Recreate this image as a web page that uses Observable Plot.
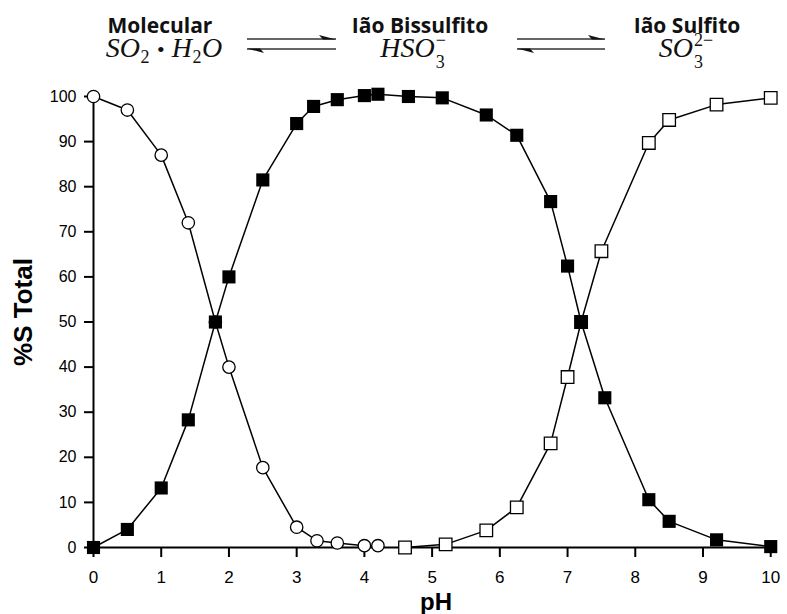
<!DOCTYPE html>
<html>
<head>
<meta charset="utf-8">
<script src="https://cdn.jsdelivr.net/npm/d3@7"></script>
<script src="https://cdn.jsdelivr.net/npm/@observablehq/plot@0.6"></script>
<style>
  html, body { margin: 0; padding: 0; background: white; }
  #wrap { position: relative; width: 787px; height: 614px; overflow: hidden; background: white; }
  #overlay { position: absolute; left: 0; top: 0; pointer-events: none; }
  #overlay text { white-space: pre; }
</style>
</head>
<body>
<div id="wrap"></div>
<script>
// ---- data ----
const xTicks = [0, 1, 2, 3, 4, 5, 6, 7, 8, 9, 10];
const yTicks = [0, 10, 20, 30, 40, 50, 60, 70, 80, 90, 100];

// Molecular SO2·H2O (open circles)
const phMolecular = [0, 0.5, 1.0, 1.4, 1.8, 2.0, 2.5, 3.0, 3.3, 3.6, 4.0, 4.2];
const molecular   = [100, 97, 87, 72, 50, 40, 17.7, 4.5, 1.5, 1.0, 0.4, 0.4];

// Bisulfite HSO3- (filled squares)
const phBisulfite = [0, 0.5, 1.0, 1.4, 1.8, 2.0, 2.5, 3.0, 3.25, 3.6, 4.0, 4.2, 4.65, 5.15, 5.8, 6.25, 6.75, 7.0, 7.2, 7.55, 8.2, 8.5, 9.2, 10.0];
const bisulfite   = [0, 4, 13.2, 28.3, 50, 60, 81.5, 94, 97.8, 99.3, 100.2, 100.5, 100, 99.7, 95.9, 91.4, 76.7, 62.4, 50, 33.2, 10.6, 5.8, 1.7, 0.2];

// Sulfite SO3 2- (open squares)
const phSulfite = [4.6, 5.2, 5.8, 6.25, 6.75, 7.0, 7.2, 7.5, 8.2, 8.5, 9.2, 10.0];
const sulfite   = [0, 0.7, 3.8, 8.9, 23.1, 37.8, 50, 65.7, 89.7, 94.8, 98.2, 99.7];

const headerLabels = ["Molecular", "Ião Bissulfito", "Ião Sulfito"];
const xLabel = "pH";
const yLabel = "%S Total";

// ---- tables ----
const molData = phMolecular.map((ph, i) => ({ph, v: molecular[i]}));
const bisData = phBisulfite.map((ph, i) => ({ph, v: bisulfite[i]}));
const sulData = phSulfite.map((ph, i) => ({ph, v: sulfite[i]}));

const chart = Plot.plot({
  width: 787,
  height: 614,
  marginLeft: 93,
  marginRight: 10,
  marginTop: 96,
  marginBottom: 67,
  style: {fontFamily: "'Liberation Sans', Arial, Helvetica, sans-serif", background: "white", color: "black", overflow: "visible"},
  x: {domain: [0, 10.1]},
  y: {domain: [0, 100]},
  marks: [
    Plot.axisX({ticks: xTicks, tickSize: 10, tickPadding: 13, fontSize: 17, strokeWidth: 2, label: null}),
    Plot.axisY({ticks: yTicks, tickSize: 9, tickPadding: 8, fontSize: 16, strokeWidth: 2, label: null}),
    Plot.ruleY([0], {stroke: "black", strokeWidth: 2}),
    Plot.ruleX([0], {stroke: "black", strokeWidth: 2}),
    Plot.line(molData, {x: "ph", y: "v", stroke: "black", strokeWidth: 1.5}),
    Plot.line(sulData, {x: "ph", y: "v", stroke: "black", strokeWidth: 1.5}),
    Plot.line(bisData, {x: "ph", y: "v", stroke: "black", strokeWidth: 1.5}),
    Plot.dot(molData, {x: "ph", y: "v", symbol: "circle", r: 6.2, fill: "white", stroke: "black", strokeWidth: 1.3}),
    Plot.dot(sulData, {x: "ph", y: "v", symbol: "square", r: 7.1, fill: "white", stroke: "black", strokeWidth: 1.3}),
    Plot.dot(bisData, {x: "ph", y: "v", symbol: "square", r: 7.4, fill: "black", stroke: "none"})
  ]
});

const wrap = document.getElementById("wrap");
wrap.appendChild(chart);

// ---- overlay text: header, axis titles ----
const NS = "http://www.w3.org/2000/svg";
const ov = document.createElementNS(NS, "svg");
ov.setAttribute("id", "overlay");
ov.setAttribute("width", 787);
ov.setAttribute("height", 614);
wrap.appendChild(ov);

function txt(parent, s, attrs) {
  const t = document.createElementNS(NS, "text");
  for (const k in attrs) t.setAttribute(k, attrs[k]);
  t.textContent = s;
  parent.appendChild(t);
  return t;
}

const headFont = "'Open Sans', 'Noto Sans', sans-serif";
const serif = "'Liberation Serif', 'DejaVu Serif', serif";
const headCenters = [160, 420, 687];
headerLabels.forEach((s, i) => {
  txt(ov, s, {x: headCenters[i], y: 33, "text-anchor": "middle", "font-family": headFont, "font-weight": 700, "font-size": 21, fill: "#111"});
});

// formula: segments [{t, kind}] kind: main | gap | sub | subsup (t, sup)
const mainSize = 28, scriptSize = 18;
function formula(cx, base, segs) {
  const g = document.createElementNS(NS, "g");
  ov.appendChild(g);
  let x = 0;
  for (const s of segs) {
    if (s.kind === "main") {
      const t = txt(g, s.t, {x, y: base, "font-family": serif, "font-style": s.upright ? "normal" : "italic", "font-size": s.upright ? 22 : mainSize, fill: "#111"});
      x += t.getComputedTextLength();
    } else if (s.kind === "gap") {
      x += s.w;
    } else if (s.kind === "sub") {
      const t = txt(g, s.t, {x: x + 0.5, y: base + 6, "font-family": serif, "font-size": scriptSize, fill: "#111"});
      x += t.getComputedTextLength() + 1;
    } else if (s.kind === "subsup") {
      const a = txt(g, s.t, {x: x + 1, y: base + 11, "font-family": serif, "font-size": scriptSize, fill: "#111"});
      const b = txt(g, s.sup, {x: x + 1, y: base - 11, "font-family": serif, "font-size": scriptSize, fill: "#111"});
      x += Math.max(a.getComputedTextLength(), b.getComputedTextLength()) + 1;
    }
  }
  g.setAttribute("transform", `translate(${cx - x / 2},0)`);
}

formula(164, 57, [
  {t: "SO", kind: "main"}, {t: "2", kind: "sub"},
  {kind: "gap", w: 7},
  {t: "\u2022", kind: "main", upright: true},
  {kind: "gap", w: 7},
  {t: "H", kind: "main"}, {t: "2", kind: "sub"}, {t: "O", kind: "main"}
]);
formula(413, 57, [{t: "HSO", kind: "main"}, {t: "3", sup: "\u2212", kind: "subsup"}]);
formula(686, 57, [{t: "SO", kind: "main"}, {t: "3", sup: "2\u2212", kind: "subsup"}]);

// equilibrium harpoons
function harpoons(x1, x2) {
  const yTop = 39, yBot = 49;
  const mk = (d, attrs) => { const p = document.createElementNS(NS, "path"); p.setAttribute("d", d); for (const k in attrs) p.setAttribute(k, attrs[k]); ov.appendChild(p); };
  mk(`M${x1},${yTop}H${x2}`, {stroke: "#666", "stroke-width": 2, fill: "none"});
  mk(`M${x1},${yBot}H${x2}`, {stroke: "#666", "stroke-width": 2, fill: "none"});
  mk(`M${x2},${yTop + 0.5}L${x2 - 17},${yTop - 4}L${x2 - 13},${yTop + 0.5}Z`, {fill: "#111"});
  mk(`M${x1},${yBot - 0.5}L${x1 + 17},${yBot + 4}L${x1 + 13},${yBot - 0.5}Z`, {fill: "#111"});
}
harpoons(247, 336);
harpoons(517, 605);

// axis titles
txt(ov, yLabel, {transform: "translate(32,312) rotate(-90)", "text-anchor": "middle", "font-family": "'Liberation Sans', Arial, sans-serif", "font-weight": 700, "font-size": 26, fill: "black"});
txt(ov, xLabel, {x: 436, y: 610, "text-anchor": "middle", "font-family": "'Liberation Sans', Arial, sans-serif", "font-weight": 700, "font-size": 24, fill: "black"});
</script>
</body>
</html>
